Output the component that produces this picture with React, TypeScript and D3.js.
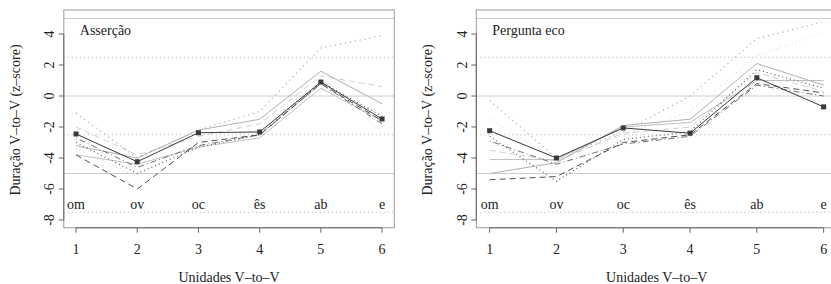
import React from 'react';
import * as d3 from 'd3';

const WIDTH = 831;
const HEIGHT = 284;

const units = [1, 2, 3, 4, 5, 6];
const phones = ['om', 'ov', 'oc', 'ês', 'ab', 'e'];
const yTicks = [-8, -6, -4, -2, 0, 2, 4];
const solidRefs = [5, 0, -5];
const dottedRefs = [2.5, -2.5, -7.5];

// series styles (same order in both panels)
const seriesStyles = [
  { stroke: '#3a3a3a', dash: '', width: 1 },
  { stroke: '#505050', dash: '6,4', width: 1 },
  { stroke: '#606060', dash: '1,3', width: 1.2 },
  { stroke: '#707070', dash: '1,3,6,3', width: 1 },
  { stroke: '#b0b0b0', dash: '', width: 1 },
  { stroke: '#c0c0c0', dash: '', width: 1 },
  { stroke: '#a0a0a0', dash: '1,4', width: 1.2 },
  { stroke: '#d0d0d0', dash: '6,4', width: 1 },
  { stroke: '#dddddd', dash: '1,3', width: 1.2 },
];

const assercao = [
  [-2.45, -4.24, -2.37, -2.32, 0.9, -1.48],
  [-3.8, -6.0, -3.0, -2.5, 0.8, -1.6],
  [-3.0, -5.0, -3.3, -2.5, 0.9, -1.3],
  [-2.7, -4.6, -3.2, -2.5, 0.8, -1.8],
  [-3.2, -4.0, -2.2, -1.5, 1.6, -0.5],
  [-3.8, -4.4, -3.3, -2.7, 0.5, -1.6],
  [-1.1, -4.0, -2.2, -1.0, 3.1, 3.9],
  [-2.0, -3.8, -2.6, -1.8, 1.3, 0.6],
  [-3.4, -5.2, -2.9, -2.2, 1.1, -2.3],
];

const perguntaEco = [
  [-2.24, -4.0, -2.06, -2.4, 1.18, -0.7],
  [-5.4, -5.2, -3.0, -2.5, 0.8, 0.2],
  [-2.6, -5.5, -2.8, -2.3, 1.7, 0.5],
  [-2.9, -4.4, -3.1, -2.6, 0.7, 0.0],
  [-5.0, -4.3, -1.9, -1.5, 2.1, 0.7],
  [-4.1, -4.1, -2.0, -1.7, 1.0, 1.0],
  [-0.3, -4.0, -2.3, 0.0, 3.7, 4.8],
  [-3.5, -4.2, -2.4, -2.0, 1.5, 0.3],
  [-1.5, -4.1, -2.5, -1.0, 2.6, 4.1],
];

const FONT = '"Liberation Serif", "DejaVu Serif", serif';

const Panel = ({ title, data, left, right, labelX }) => {
  const x = d3.scaleLinear().domain([0.8, 6.2]).range([left, right]);
  const y = d3.scaleLinear().domain([-8.5, 5.55]).range([227.75, 10]);
  const line = d3.line().x((d, i) => x(units[i])).y(d => y(d));
  const clipId = 'clip-' + title.replace(/\s/g, '');
  const boxBottom = y(-8.5);

  return (
    <g>
      <defs>
        <clipPath id={clipId}>
          <rect x={x(0.8)} y={y(5.55)} width={x(6.2) - x(0.8)} height={boxBottom - y(5.55)} />
        </clipPath>
      </defs>
      <g clipPath={`url(#${clipId})`}>
        {solidRefs.map(v => (
          <line key={'s' + v} x1={x(0.8)} x2={x(6.2)} y1={y(v)} y2={y(v)} stroke="#ccc" strokeWidth={1} />
        ))}
        {dottedRefs.map(v => (
          <line key={'d' + v} x1={x(0.8)} x2={x(6.2)} y1={y(v)} y2={y(v)} stroke="#b0b0b0" strokeWidth={1} strokeDasharray="1,3" />
        ))}
        {data.map((s, k) => {
          const st = seriesStyles[k];
          return (
            <path key={k} d={line(s)} fill="none" stroke={st.stroke} strokeWidth={st.width} strokeDasharray={st.dash} />
          );
        }).reverse()}
        {data[0].map((v, i) => (
          <rect key={'m' + i} x={x(units[i]) - 2.5} y={y(v) - 2.5} width={5} height={5} fill="#3a3a3a" />
        ))}
        {phones.map((p, i) => (
          <text key={p} x={x(units[i])} y={y(-7)} textAnchor="middle" dominantBaseline="central"
            fontFamily={FONT} fontSize={14} fill="#222">{p}</text>
        ))}
        <text x={x(0.8) + 16} y={y(4.2)} fontFamily={FONT} fontSize={14} dominantBaseline="central" fill="#222">{title}</text>
      </g>
      <rect x={x(0.8)} y={y(5.55)} width={x(6.2) - x(0.8)} height={boxBottom - y(5.55)} fill="none" stroke="#999" strokeWidth={1} />
      {/* left axis */}
      <line x1={x(0.8)} x2={x(0.8)} y1={y(-8)} y2={y(4)} stroke="#666" />
      {yTicks.map(t => (
        <g key={t}>
          <line x1={x(0.8) - 5} x2={x(0.8)} y1={y(t)} y2={y(t)} stroke="#666" />
          <text transform={`translate(${x(0.8) - 14},${y(t)}) rotate(-90)`} textAnchor="middle"
            dominantBaseline="central" fontFamily={FONT} fontSize={14} fill="#222">{t}</text>
        </g>
      ))}
      {/* bottom axis */}
      <line x1={x(1)} x2={x(6)} y1={boxBottom} y2={boxBottom} stroke="#666" />
      {units.map(u => (
        <g key={u}>
          <line x1={x(u)} x2={x(u)} y1={boxBottom} y2={boxBottom + 5} stroke="#666" />
          <text x={x(u)} y={boxBottom + 22} textAnchor="middle" dominantBaseline="central"
            fontFamily={FONT} fontSize={14} fill="#222">{u}</text>
        </g>
      ))}
      <text x={(x(1) + x(6)) / 2} y={277} textAnchor="middle" dominantBaseline="central"
        fontFamily={FONT} fontSize={14} fill="#222">Unidades V–to–V</text>
      <text transform={`translate(${labelX},120) rotate(-90)`} textAnchor="middle" dominantBaseline="central"
        fontFamily={FONT} fontSize={14} fill="#222">Duração V–to–V (z–score)</text>
    </g>
  );
};

export default function App() {
  return (
    <svg width={WIDTH} height={HEIGHT} style={{ position: 'absolute', left: 0, top: 0, background: '#fff' }}>
      <rect width={WIDTH} height={HEIGHT} fill="#fff" />
      <Panel title="Asserção" data={assercao} left={63.8} right={394.3} labelX={15} />
      <Panel title="Pergunta eco" data={perguntaEco} left={476.3} right={837} labelX={427} />
    </svg>
  );
}
